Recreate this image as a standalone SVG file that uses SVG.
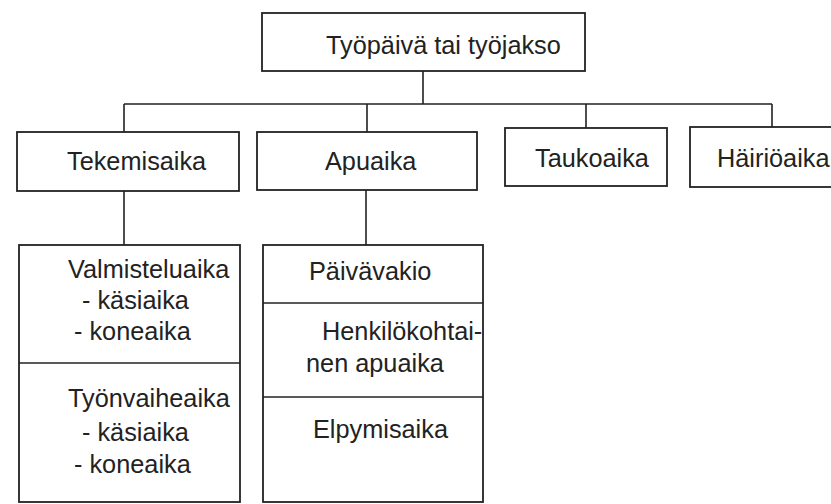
<svg xmlns="http://www.w3.org/2000/svg" width="831" height="504" viewBox="0 0 831 504">
<style>
.box{fill:#fff;stroke:#222;stroke-width:1.8}
.ln{fill:none;stroke:#222;stroke-width:1.6}
text{font-family:"Liberation Sans",Arial,sans-serif;font-size:25.3px;fill:#222}
</style>
<rect width="831" height="504" fill="#fff"/>
<g id="connectors">
<path class="ln" d="M423 71V104M124 104H772M124 104V132M367 104V132M586 104V128M772 104V127"/>
<path class="ln" d="M124 191V245M366 190V245"/>
</g>
<g id="n-tyopaiva">
<rect class="box" x="262" y="13" width="323" height="58"/>
<text x="326" y="54">Työpäivä tai työjakso</text>
</g>
<g id="n-tekemisaika">
<rect class="box" x="17" y="132" width="222" height="59"/>
<text x="67" y="170">Tekemisaika</text>
</g>
<g id="n-apuaika">
<rect class="box" x="257" y="132" width="220" height="58"/>
<text x="325" y="170">Apuaika</text>
</g>
<g id="n-taukoaika">
<rect class="box" x="505" y="128" width="162" height="58"/>
<text x="535" y="167">Taukoaika</text>
</g>
<g id="n-hairioaika">
<rect class="box" x="690" y="127" width="160" height="60"/>
<text x="717" y="167">Häiriöaika</text>
</g>
<g id="n-tekemis-sub">
<rect class="box" x="19" y="245" width="221" height="257"/>
<line class="ln" x1="19" y1="363" x2="240" y2="363"/>
<text x="68" y="278">Valmisteluaika</text>
<text x="82" y="309">- käsiaika</text>
<text x="74" y="340">- koneaika</text>
<text x="68" y="407">Työnvaiheaika</text>
<text x="82" y="441">- käsiaika</text>
<text x="74" y="473">- koneaika</text>
</g>
<g id="n-apu-sub">
<rect class="box" x="263" y="245" width="220" height="257"/>
<line class="ln" x1="263" y1="303" x2="483" y2="303"/>
<line class="ln" x1="263" y1="397" x2="483" y2="397"/>
<text x="309" y="280">Päivävakio</text>
<text x="322" y="340">Henkilökohtai-</text>
<text x="306" y="372">nen apuaika</text>
<text x="313" y="438">Elpymisaika</text>
</g>
</svg>
